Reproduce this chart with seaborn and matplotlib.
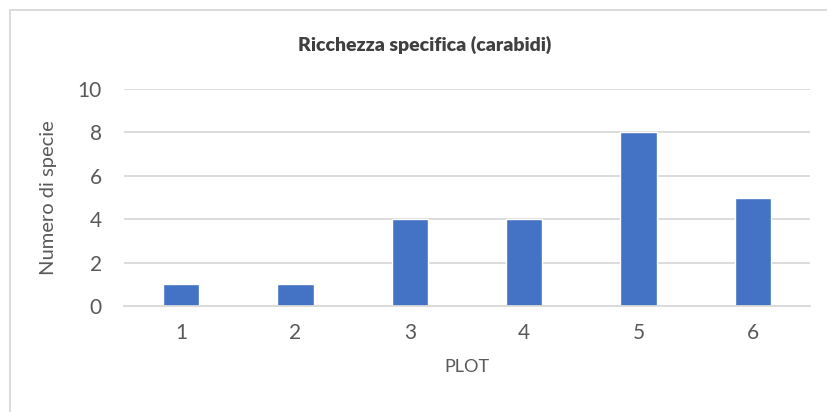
import pandas as pd
import matplotlib.pyplot as plt
import seaborn as sns
from matplotlib.patches import Rectangle

# data
plots = ["1", "2", "3", "4", "5", "6"]
n_species = [1, 1, 4, 4, 8, 5]

df = pd.DataFrame({"Plot": plots, "Species": n_species})

sns.set_theme(style="white")
plt.rcParams["font.family"] = ["Lato", "DejaVu Sans"]

TEXT = "#595959"
GRID = "#D9D9D9"
BLUE = "#4472C4"

fig = plt.figure(figsize=(8.27, 4.12), dpi=100)
ax = fig.add_axes([124 / 827, 1 - 306 / 412, (810 - 124) / 827, (306 - 89) / 412])

sns.barplot(data=df, x="Plot", y="Species", color=BLUE, width=0.315,
            saturation=1, ax=ax)

ax.set_ylim(0, 10)
ax.set_yticks(range(0, 11, 2))
ax.set_xlim(-0.5, len(plots) - 0.5)
ax.yaxis.grid(True, color=GRID, linewidth=1.3)
ax.set_axisbelow(True)
for s in ["top", "right", "left"]:
    ax.spines[s].set_visible(False)
ax.spines["bottom"].set_color(GRID)
ax.spines["bottom"].set_linewidth(1.3)
ax.tick_params(axis="both", length=0, labelsize=15, colors=TEXT)
ax.tick_params(axis="x", pad=12)
ax.tick_params(axis="y", pad=16)

ax.set_xlabel("PLOT", fontsize=13, color=TEXT, labelpad=12)
ax.set_ylabel("Numero di specie", fontsize=14.5, color=TEXT, labelpad=15)
fig.text(425 / 827, 1 - 45 / 412, "Ricchezza specifica (carabidi)",
         ha="center", va="center", fontsize=14, fontweight="heavy", color="#404040")

# chart frame (only left/top edges visible in crop)
fig.patches.append(Rectangle((10 / 827, -0.1), 1.2, 1 - 10 / 412 + 0.1,
                             transform=fig.transFigure, fill=False,
                             edgecolor=GRID, linewidth=1.3))

fig.savefig("out.png", dpi=100)
